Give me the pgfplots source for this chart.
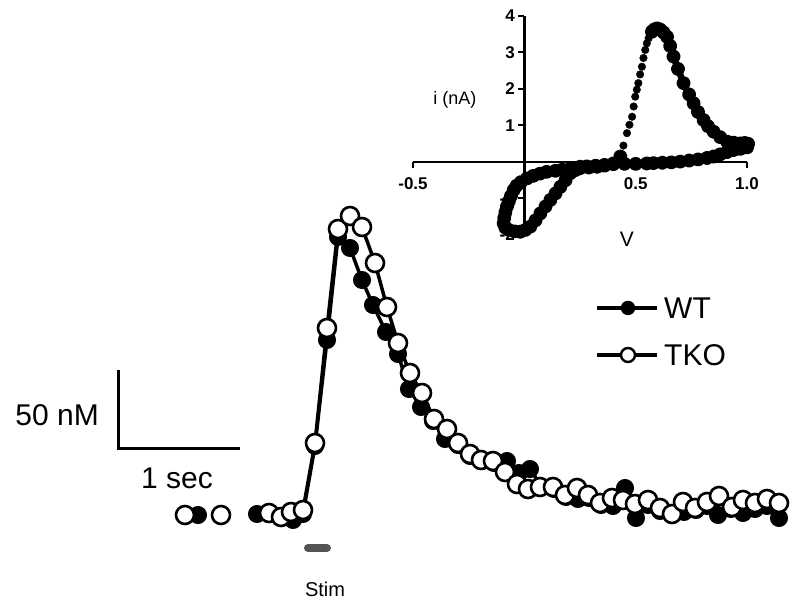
\documentclass[border=0pt]{standalone}
\usepackage{pgfplots}
\pgfplotsset{compat=1.18}
\usepackage{fontspec}
\setmainfont{Liberation Sans}
\begin{document}
\begin{tikzpicture}
\useasboundingbox (0,0) rectangle (800bp,611bp);
% ---------------- main trace (pixel-like units: 120 units = 1 s, 77 units = 50 nM)
\begin{axis}[at={(0,0)}, anchor=south west, scale only axis,
  width=800bp, height=611bp, xmin=0, xmax=800, ymin=0, ymax=611,
  hide axis, clip=false, unbounded coords=jump]
% WT
\addplot[black, line width=3.5bp, mark=*, mark size=8.5bp,
  mark options={fill=black, draw=black, line width=1bp}]
coordinates {
(198,96)(230,nan)
(257,97)(269,97)(281,95)(293,91)(303,97)(315,165)(327,271)(338,374)(350,363)(362,331)
(373,306)(386,279)(398,257)(409,222)(421,204)(433,190)(445,172)(458,166)(470,155)
(482,150)(494,148)(507,150)(519,138)(530,142)(542,124)(554,122)(566,114)(578,112)
(589,113)(601,106)(613,105)(625,123)(636,93)(648,106)(660,100)(672,96)(684,99)
(696,101)(707,105)(718,96)(731,102)(743,98)(755,102)(767,105)(779,93)
};
% TKO
\addplot[black, line width=3.5bp, mark=*, mark size=9bp,
  mark options={fill=white, draw=black, line width=2.6bp}]
coordinates {
(185,96)(200,nan)(221,96)(245,nan)
(269,98)(281,94)(291,99)(303,101)(315,168)(327,283)(338,382)(350,395)(362,384)
(375,348)(387,304)(398,268)(410,238)(422,218)(434,192)(447,182)(458,168)(470,157)
(481,151)(493,150)(505,139)(517,127)(528,122)(540,124)(553,124)(565,116)(577,123)
(588,116)(600,108)(612,113)(623,111)(635,107)(648,111)(660,103)(672,97)(683,109)
(695,103)(707,109)(719,115)(732,104)(743,111)(755,108)(767,112)(779,108)
};
% legend
\addplot[black, line width=3.5bp] coordinates {(597,303)(657,303)};
\addplot[only marks, mark=*, mark size=7bp, mark options={fill=black, draw=black}] coordinates {(628,303)};
\addplot[black, line width=3.5bp] coordinates {(597,256)(657,256)};
\addplot[only marks, mark=*, mark size=7bp, mark options={fill=white, draw=black, line width=2.4bp}] coordinates {(628,256)};
\node[anchor=west, font=\fontsize{30bp}{32bp}\selectfont, inner sep=0pt] at (axis cs:664,303) {WT};
\node[anchor=west, font=\fontsize{30bp}{32bp}\selectfont, inner sep=0pt] at (axis cs:664,256) {TKO};
% scale bar
\addplot[black, line width=3bp, line cap=rect] coordinates {(118,239)(118,162)(238,162)};
\node[anchor=east, font=\fontsize{30bp}{32bp}\selectfont, inner sep=0pt] at (axis cs:99,196) {50 nM};
\node[font=\fontsize{30bp}{32bp}\selectfont, inner sep=0pt] at (axis cs:177,133) {1 sec};
% stimulus
\addplot[black!67, line width=8bp, line cap=round] coordinates {(308,63)(327,63)};
\node[font=\fontsize{20bp}{22bp}\selectfont, inner sep=0pt] at (axis cs:325,22) {Stim};
% inset labels
\node[font=\fontsize{18bp}{20bp}\selectfont, inner sep=0pt] at (axis cs:455,511) {i (nA)};
\node[font=\fontsize{21bp}{23bp}\selectfont, inner sep=0pt] at (axis cs:627,372) {V};
\end{axis}
% ---------------- inset cyclic voltammogram
\begin{axis}[at={(413bp,376bp)}, anchor=south west, scale only axis,
  width=334bp, height=219bp, xmin=-0.5, xmax=1.0, ymin=-2, ymax=4,
  axis lines=middle, axis line style={-, line width=2.4bp},
  xtick={-0.5,0.5,1.0}, xticklabels={-0.5,0.5,1.0},
  ytick={-2,-1,1,2,3,4}, yticklabels={-2,-1,1,2,3,4},
  tick style={black, line width=2bp}, major tick length=6bp, tick align=outside,
  ticklabel style={font=\bfseries\fontsize{17bp}{19bp}\selectfont},
  /pgf/number format/assume math mode=true,
  xticklabel style={yshift=-6bp},
  clip=false]
\addplot[only marks, mark=*, mark size=3.8bp, black] coordinates {
(0.431,0.15)(0.445,0.45)(0.461,0.79)(0.472,1.02)(0.484,1.24)(0.491,1.52)(0.498,1.79)
(0.505,1.98)(0.512,2.16)(0.520,2.40)(0.528,2.61)(0.535,2.85)(0.543,3.07)(0.550,3.25)
(0.558,3.39)(0.566,3.50)(0.573,3.57)};
\addplot[black, line width=6.5bp, line join=round, mark=*, mark size=3.8bp] coordinates {
(0.573,3.57)(0.583,3.63)(0.596,3.66)(0.610,3.63)(0.625,3.55)(0.641,3.43)(0.655,3.18)
(0.670,2.89)(0.690,2.55)(0.715,2.16)(0.740,1.85)(0.760,1.61)(0.780,1.37)(0.805,1.15)
(0.825,0.98)(0.850,0.83)(0.880,0.68)(0.910,0.56)(0.940,0.53)(0.970,0.51)(0.990,0.52)
(1.005,0.50)(1.000,0.40)(0.970,0.36)(0.940,0.33)(0.910,0.27)(0.880,0.21)(0.850,0.15)
(0.820,0.11)(0.780,0.07)(0.740,0.04)(0.700,0.01)(0.660,-0.01)(0.620,-0.02)(0.580,-0.03)
(0.550,-0.04)(0.500,-0.05)(0.450,-0.05)(0.400,-0.06)(0.360,-0.08)(0.320,-0.10)
(0.280,-0.12)(0.250,-0.13)(0.210,-0.16)(0.170,-0.21)(0.140,-0.24)(0.100,-0.27)
(0.070,-0.32)(0.040,-0.38)(0.012,-0.45)(-0.015,-0.55)(-0.035,-0.65)(-0.048,-0.77)
(-0.060,-0.93)(-0.070,-1.08)(-0.078,-1.22)(-0.085,-1.38)(-0.090,-1.53)(-0.093,-1.68)
(-0.085,-1.80)(-0.070,-1.86)(-0.045,-1.90)(-0.018,-1.91)(0.005,-1.86)(0.027,-1.77)
(0.050,-1.60)(0.072,-1.41)(0.095,-1.22)(0.117,-1.04)(0.140,-0.86)(0.162,-0.68)
(0.185,-0.50)(0.206,-0.31)(0.230,-0.22)(0.250,-0.17)(0.290,-0.15)(0.327,-0.13)
(0.360,-0.10)(0.400,-0.04)(0.431,0.05)(0.431,0.15)};
\end{axis}
\end{tikzpicture}
\end{document}
